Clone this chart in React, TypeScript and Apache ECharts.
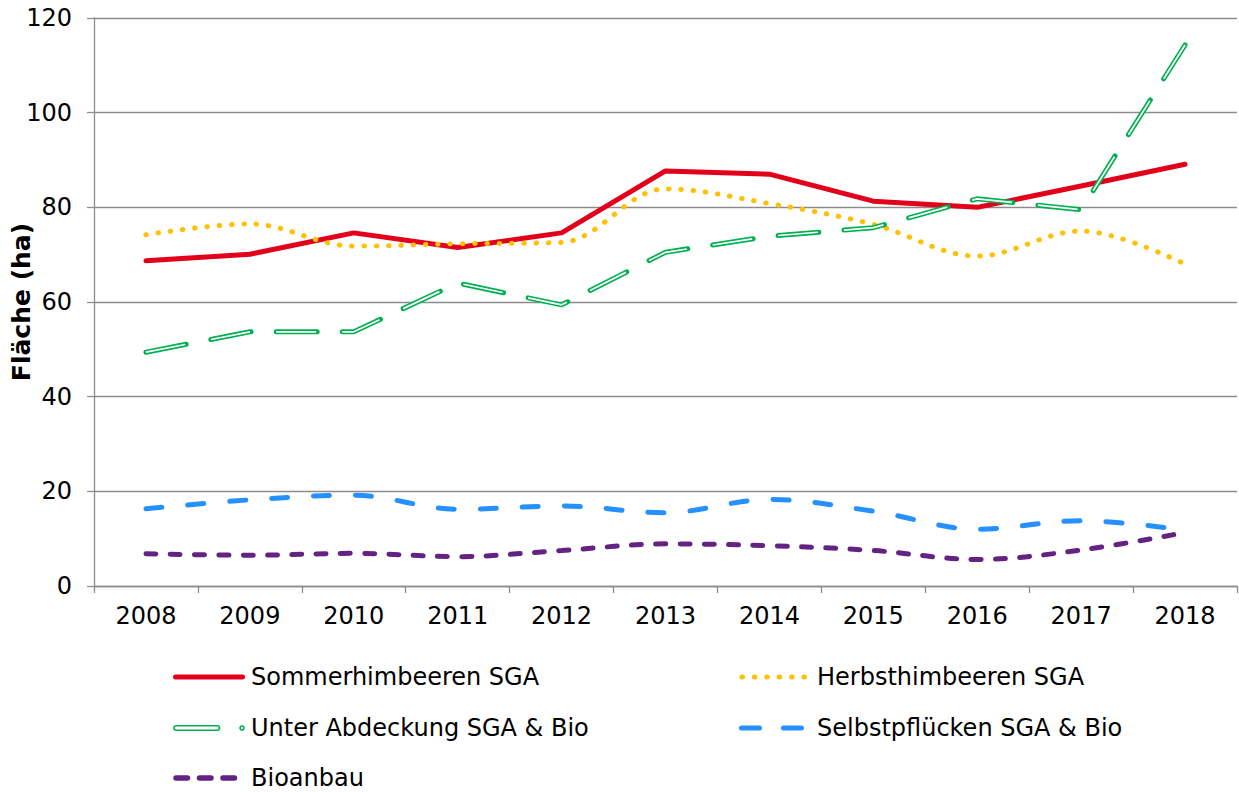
import React, { useEffect, useRef } from "react";
import * as echarts from "echarts";

const years = ["2008", "2009", "2010", "2011", "2012", "2013", "2014", "2015", "2016", "2017", "2018"];
const sommer = [68.7, 70.1, 74.6, 71.5, 74.6, 87.7, 87.0, 81.3, 80.0, 84.5, 89.1];
const herbst = [74.2, 76.5, 71.8, 72.3, 72.6, 83.9, 80.8, 76.4, 69.7, 75.0, 68.0];
const unter = [49.4, 53.7, 53.7, 64.0, 59.4, 70.5, 73.9, 75.7, 81.8, 79.5, 114.3];
const selbst = [16.3, 18.2, 19.2, 16.2, 16.9, 15.5, 18.3, 15.8, 12.0, 13.8, 11.8];
const bio = [6.8, 6.5, 6.9, 6.2, 7.5, 8.9, 8.5, 7.5, 5.6, 7.6, 11.3];

const names = [
  "Sommerhimbeeren SGA",
  "Herbsthimbeeren SGA",
  "Unter Abdeckung SGA & Bio",
  "Selbstpflücken SGA & Bio",
  "Bioanbau",
];

const RED = "#E2001A";
const YELLOW = "#FFC000";
const GREEN = "#00B050";
const BLUE = "#2590FF";
const PURPLE = "#642282";
const GRID = "#8C8C8C";
const FONT = '"DejaVu Sans", Verdana, sans-serif';
const FS = 24;

export default function App() {
  const ref = useRef<HTMLDivElement>(null);
  useEffect(() => {
    if (!ref.current) return;
    const chart = echarts.init(ref.current, undefined, { renderer: "svg" });
    const txt = (text: string, x: number, y: number) => ({
      type: "text",
      style: { text, x, y, font: `${FS}px ${FONT}`, fill: "#000", verticalAlign: "middle" },
    });
    chart.setOption({
      animation: false,
      backgroundColor: "#fff",
      grid: { left: 94, right: 2, top: 18, bottom: 206, containLabel: false, outerBoundsMode: "none" },
      xAxis: {
        type: "category",
        data: years,
        boundaryGap: true,
        axisLine: { show: true, lineStyle: { color: GRID, width: 1.3 } },
        axisTick: { show: true, length: 7, lineStyle: { color: GRID, width: 1.3 } },
        axisLabel: { fontSize: FS, fontFamily: FONT, color: "#000", margin: 18 },
      },
      yAxis: {
        type: "value",
        min: 0,
        max: 120,
        interval: 20,
        name: "Fläche (ha)",
        nameLocation: "middle",
        nameGap: 60,
        nameMoveOverlap: false,
        nameTextStyle: { fontSize: 25, fontWeight: "bold", fontFamily: FONT, color: "#000" },
        axisLine: { show: true, lineStyle: { color: GRID, width: 1.3 } },
        axisTick: { show: true, length: 7, lineStyle: { color: GRID, width: 1.3 } },
        axisLabel: { fontSize: FS, fontFamily: FONT, color: "#000", margin: 22 },
        splitLine: { show: true, lineStyle: { color: GRID, width: 1.3 } },
      },
      series: [
        {
          name: names[0],
          type: "line",
          data: sommer,
          symbol: "none",
          lineStyle: { color: RED, width: 5, cap: "round", join: "round" },
        },
        {
          name: names[1],
          type: "line",
          data: herbst,
          symbol: "none",
          smooth: 0.35,
          lineStyle: { color: YELLOW, width: 5, type: [0.5, 11.8], cap: "round" },
        },
        {
          name: names[2],
          type: "line",
          data: unter,
          symbol: "none",
          lineStyle: { color: GREEN, width: 5, type: [41, 25.1], cap: "round", join: "round" },
        },
        {
          name: names[2] + " (innen)",
          type: "line",
          data: unter,
          symbol: "none",
          silent: true,
          lineStyle: { color: "#fff", width: 1.7, type: [40, 26.1], dashOffset: -0.5, cap: "butt", join: "round" },
        },
        {
          name: names[3],
          type: "line",
          data: selbst,
          symbol: "none",
          smooth: 0.35,
          lineStyle: { color: BLUE, width: 5, type: [16, 26], cap: "round" },
        },
        {
          name: names[4],
          type: "line",
          data: bio,
          symbol: "none",
          smooth: 0.35,
          lineStyle: { color: PURPLE, width: 5, type: [10, 14.3], cap: "round" },
        },
      ],
      graphic: [
        { type: "line", shape: { x1: 175.5, y1: 677, x2: 242.5, y2: 677 }, style: { stroke: RED, lineWidth: 5, lineCap: "round" } },
        txt(names[0], 251, 677),
        { type: "line", shape: { x1: 742, y1: 677, x2: 804.5, y2: 677 }, style: { stroke: YELLOW, lineWidth: 5, lineCap: "round", lineDash: [0.5, 11.9] } },
        txt(names[1], 817, 677),
        { type: "rect", shape: { x: 174, y: 725.8, width: 45.5, height: 4.4, r: 2.2 }, style: { stroke: GREEN, lineWidth: 1.6, fill: "#fff" } },
        { type: "circle", shape: { cx: 242, cy: 728, r: 2 }, style: { stroke: GREEN, lineWidth: 1.6, fill: "#fff" } },
        txt(names[2], 251, 728),
        { type: "line", shape: { x1: 741.5, y1: 728, x2: 801.5, y2: 728 }, style: { stroke: BLUE, lineWidth: 5, lineCap: "round", lineDash: [18, 24] } },
        txt(names[3], 817, 728),
        { type: "line", shape: { x1: 176, y1: 778, x2: 234.5, y2: 778 }, style: { stroke: PURPLE, lineWidth: 5.5, lineCap: "round", lineDash: [11.5, 12] } },
        txt(names[4], 251, 778),
      ],
    });
    return () => chart.dispose();
  }, []);
  return (
    <div
      ref={ref}
      style={{ position: "absolute", left: 0, top: 0, width: 1239, height: 792, background: "#fff" }}
    />
  );
}
